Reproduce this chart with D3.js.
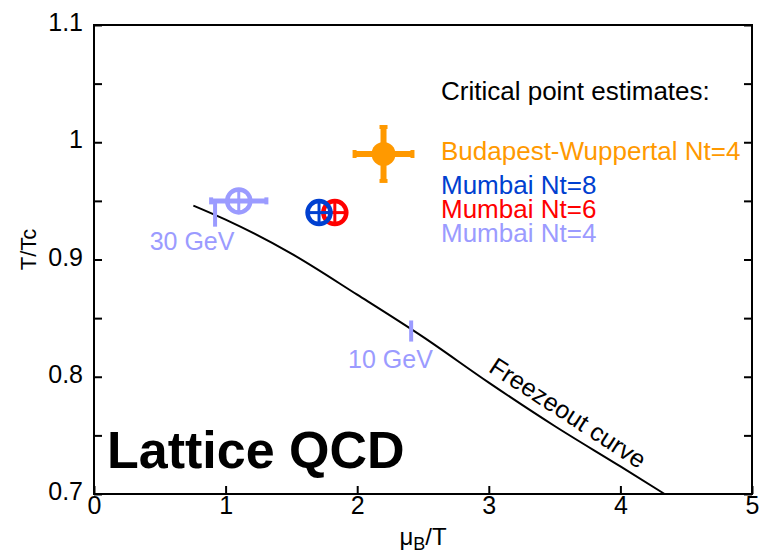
<!DOCTYPE html>
<html>
<head>
<meta charset="utf-8">
<script src="https://cdn.jsdelivr.net/npm/d3@7"></script>
<style>
  body { margin: 0; background: #fff; }
  svg { display: block; font-family: "Liberation Sans", Arial, Helvetica, sans-serif; }
</style>
</head>
<body>
<svg id="chart" width="769" height="555"></svg>
<script>
// Axis ticks
const xTicks = [0, 1, 2, 3, 4, 5];
const xTickLabels = ["0", "1", "2", "3", "4", "5"];
const yTicks = [0.7, 0.8, 0.9, 1.0, 1.1];
const yTickLabels = ["0.7", "0.8", "0.9", "1", "1.1"];
const yMinorTicks = [0.75, 0.85, 0.95, 1.05];

// Chemical freeze-out curve (muB/T, T/Tc)
const freezeMu = [0.755, 1.0, 1.5, 2.0, 2.5, 3.0, 3.5, 4.0, 4.336];
const freezeT  = [0.946, 0.934, 0.905, 0.870, 0.834, 0.795, 0.758, 0.7235, 0.700];

// Critical point estimates
const estimateNames = ["Budapest-Wuppertal Nt=4", "Mumbai Nt=8", "Mumbai Nt=6", "Mumbai Nt=4"];
const estimateMu    = [2.2, 1.71, 1.83, 1.1];
const estimateT     = [0.99, 0.94, 0.94, 0.95];
const estimateMuErr = [0.22, 0, 0, 0.21];
const estimateTErr  = [0.023, 0, 0, 0];

// Collision energies marked on the freeze-out curve
const energyLabels = ["30 GeV", "10 GeV"];
const energyMu     = [0.92, 2.41];
const energyTLow   = [0.928, 0.830];
const energyTHigh  = [0.950, 0.848];
const energyLabelMu = [0.745, 2.253];
const energyLabelT  = [0.908, 0.8075];

// Styling
const colors = ["#ff9900", "#0040d0", "#ff0000", "#9b9bff"];
const filled = [true, false, false, false];
const drawOrder = [3, 2, 1, 0];

const W = 769, H = 555;
const margin = { left: 94, right: 17, top: 25, bottom: 61 };
const svg = d3.select("#chart");

const x = d3.scaleLinear().domain([0, 5]).range([margin.left, W - margin.right]);
const y = d3.scaleLinear().domain([0.7, 1.1]).range([H - margin.bottom, margin.top]);

// Frame
svg.append("rect")
  .attr("x", x(0)).attr("y", y(1.1))
  .attr("width", x(5) - x(0)).attr("height", y(0.7) - y(1.1))
  .attr("fill", "none").attr("stroke", "#000").attr("stroke-width", 2);

const axisStyle = g => {
  g.select(".domain").remove();
  g.selectAll(".tick line").attr("stroke", "#000").attr("stroke-width", 2);
  g.selectAll(".tick text").attr("fill", "#000").attr("font-size", 25)
    .attr("font-family", "'Liberation Sans', Arial, Helvetica, sans-serif");
};

// Bottom axis
svg.append("g")
  .attr("transform", `translate(0,${y(0.7)})`)
  .call(d3.axisBottom(x).tickValues(xTicks)
    .tickFormat((d, i) => xTickLabels[i]).tickSizeInner(-8).tickSizeOuter(0).tickPadding(2))
  .call(axisStyle);

// Left axis
svg.append("g")
  .attr("transform", `translate(${x(0)},0)`)
  .call(d3.axisLeft(y).tickValues(yTicks)
    .tickFormat((d, i) => yTickLabels[i]).tickSizeInner(-8).tickSizeOuter(0).tickPadding(11))
  .call(axisStyle)
  .call(g => g.selectAll(".tick text").attr("dy", "0.22em"));

svg.append("g")
  .attr("transform", `translate(${x(0)},0)`)
  .call(d3.axisLeft(y).tickValues(yMinorTicks).tickFormat("").tickSizeInner(-8).tickSizeOuter(0))
  .call(axisStyle);

// Right axis ticks
svg.append("g")
  .attr("transform", `translate(${x(5)},0)`)
  .call(d3.axisRight(y).tickValues(yTicks.concat(yMinorTicks)).tickFormat("").tickSizeInner(-8).tickSizeOuter(0))
  .call(axisStyle);

// Axis titles
const xTitle = svg.append("text")
  .attr("x", (x(0) + x(5)) / 2).attr("y", 545)
  .attr("text-anchor", "middle").attr("font-size", 24).attr("fill", "#000");
xTitle.append("tspan").text("\u03bc");
xTitle.append("tspan").attr("font-size", 18).attr("dy", 5).text("B");
xTitle.append("tspan").attr("dy", -5).text("/T");

svg.append("text")
  .attr("transform", `translate(36,${(y(0.7) + y(1.1)) / 2 - 10}) rotate(-90)`)
  .attr("text-anchor", "middle").attr("font-size", 22).attr("fill", "#000")
  .text("T/Tc");

// Freeze-out curve
const freezeData = freezeMu.map((m, i) => [m, freezeT[i]]);
svg.append("path")
  .datum(freezeData)
  .attr("d", d3.line().x(d => x(d[0])).y(d => y(d[1])).curve(d3.curveMonotoneX))
  .attr("fill", "none").attr("stroke", "#000").attr("stroke-width", 2);

svg.append("text")
  .attr("transform", `translate(${x(2.99)},${y(0.805)}) rotate(33)`)
  .attr("font-size", 25).attr("fill", "#000")
  .text("Freezeout curve");

// Energy markers on the curve
energyLabels.forEach((lab, i) => {
  svg.append("line")
    .attr("x1", x(energyMu[i])).attr("x2", x(energyMu[i]))
    .attr("y1", y(energyTLow[i])).attr("y2", y(energyTHigh[i]))
    .attr("stroke", colors[3]).attr("stroke-width", 4);
  svg.append("text")
    .attr("x", x(energyLabelMu[i])).attr("y", y(energyLabelT[i]))
    .attr("text-anchor", "middle").attr("font-size", 25).attr("fill", colors[3])
    .text(lab);
});

// Critical point markers
const R = 11.5;
drawOrder.forEach(i => {
  const g = svg.append("g");
  const cx = x(estimateMu[i]), cy = y(estimateT[i]);
  const c = colors[i];
  if (estimateMuErr[i] > 0) {
    const x0 = x(estimateMu[i] - estimateMuErr[i]), x1 = x(estimateMu[i] + estimateMuErr[i]);
    const sw = filled[i] ? 6 : 5;
    g.append("line").attr("x1", x0).attr("x2", x1).attr("y1", cy).attr("y2", cy)
      .attr("stroke", c).attr("stroke-width", sw);
    [x0, x1].forEach(xe => g.append("line")
      .attr("x1", xe).attr("x2", xe).attr("y1", cy - sw / 2 - 1).attr("y2", cy + sw / 2 + 1)
      .attr("stroke", c).attr("stroke-width", 4));
  }
  if (estimateTErr[i] > 0) {
    const y0 = y(estimateT[i] - estimateTErr[i]), y1 = y(estimateT[i] + estimateTErr[i]);
    g.append("line").attr("x1", cx).attr("x2", cx).attr("y1", y0).attr("y2", y1)
      .attr("stroke", c).attr("stroke-width", 6);
    [y0, y1].forEach(ye => g.append("line")
      .attr("x1", cx - 4).attr("x2", cx + 4).attr("y1", ye).attr("y2", ye)
      .attr("stroke", c).attr("stroke-width", 4));
  }
  if (filled[i]) {
    g.append("circle").attr("cx", cx).attr("cy", cy).attr("r", 12).attr("fill", c);
  } else {
    g.append("circle").attr("cx", cx).attr("cy", cy).attr("r", R)
      .attr("fill", "none").attr("stroke", c).attr("stroke-width", 4.5);
    g.append("line").attr("x1", cx - R - 1).attr("x2", cx + R + 1).attr("y1", cy).attr("y2", cy)
      .attr("stroke", c).attr("stroke-width", 3);
    g.append("line").attr("x1", cx).attr("x2", cx).attr("y1", cy - R).attr("y2", cy + R)
      .attr("stroke", c).attr("stroke-width", 3);
  }
});

// Legend
const legendX = 441;
svg.append("text")
  .attr("x", legendX).attr("y", 100)
  .attr("font-size", 26).attr("fill", "#000")
  .text("Critical point estimates:");
estimateNames.forEach((name, i) => {
  svg.append("text")
    .attr("x", legendX).attr("y", i === 0 ? 160 : 193.5 + (i - 1) * 24)
    .attr("font-size", 26).attr("fill", colors[i])
    .text(name);
});

// Panel title
svg.append("text")
  .attr("x", 107).attr("y", 468)
  .attr("font-size", 52).attr("font-weight", "bold").attr("fill", "#000")
  .text("Lattice QCD");
</script>
</body>
</html>
